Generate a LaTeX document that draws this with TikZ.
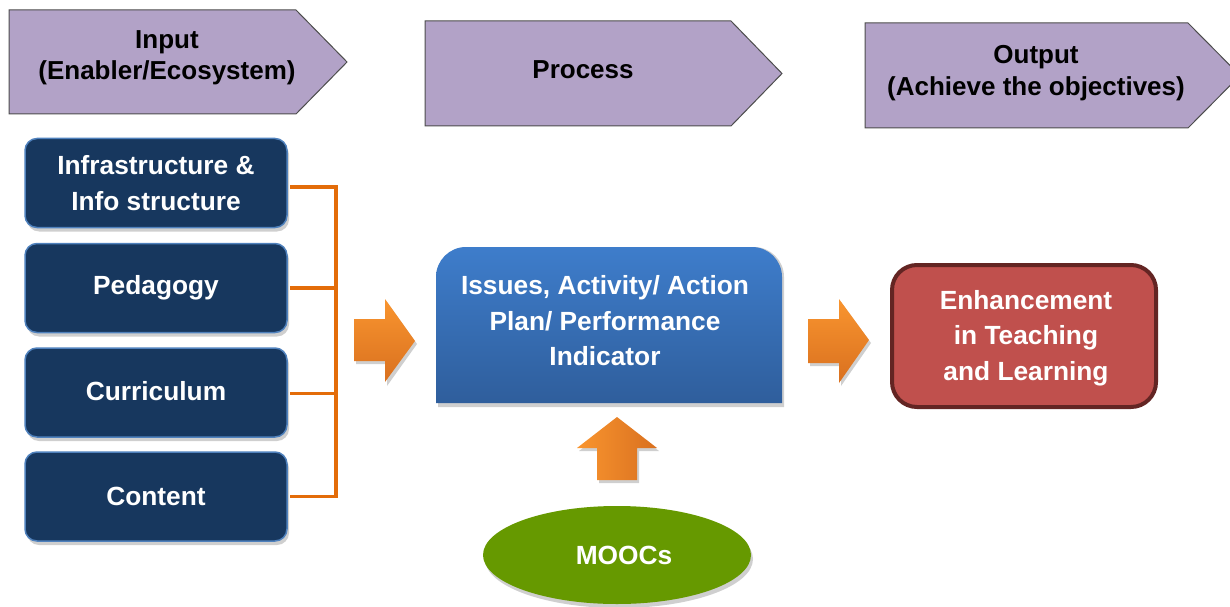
\documentclass[tikz,border=0pt]{standalone}
\usepackage{fontspec}
\setmainfont{Liberation Sans}
\usetikzlibrary{shapes.geometric,shadows}
\definecolor{pentafill}{HTML}{B2A2C7}
\definecolor{pentaedge}{HTML}{4D4D4D}
\definecolor{navy}{HTML}{17375E}
\definecolor{navyedge}{HTML}{4F81BD}
\definecolor{bluetop}{HTML}{3E7DCB}
\definecolor{bluebot}{HTML}{2F5E9C}
\definecolor{redfill}{HTML}{C0504D}
\definecolor{rededge}{HTML}{632523}
\definecolor{moocgreen}{HTML}{669900}
\definecolor{orangeA}{HTML}{F9952F}
\definecolor{orangeB}{HTML}{D9701F}
\definecolor{bracket}{HTML}{E36C09}
\definecolor{shadowgray}{HTML}{CFCFCF}
\begin{document}
\begin{tikzpicture}[x=1pt,y=1pt,
  txt/.style={font=\bfseries\fontsize{26.3}{35.5}\selectfont, align=center, inner sep=0pt},
  headtxt/.style={font=\bfseries\fontsize{26}{31.5}\selectfont, align=center, inner sep=0pt},
  pentashape/.style={fill=pentafill, draw=pentaedge, line width=1pt},
  navybox/.style={txt, text=white, fill=navy, draw=navyedge, line width=1.5pt,
    rounded corners=12pt, minimum width=262pt, minimum height=89pt,
    drop shadow={shadow xshift=2pt, shadow yshift=-4pt, fill=shadowgray, opacity=1}},
  bracketline/.style={draw=bracket, line width=3.5pt},
  shadowfill/.style={fill=shadowgray},
  hshade/.style={top color=orangeA, bottom color=orangeB},
  vshade/.style={left color=orangeA, right color=orangeB}]
\useasboundingbox (0,0) rectangle (1230,606);
\clip (0,0) rectangle (1230,606);

% header pentagons
\draw[pentashape] (9,596) -- (296,596) -- (347,544) -- (296,492) -- (9,492) -- cycle;
\node[headtxt] (input) at (167,548) {Input\\(Enabler/Ecosystem)};
\draw[pentashape] (425,585) -- (731,585) -- (782,532.5) -- (731,480) -- (425,480) -- cycle;
\node[headtxt] (process) at (583,536) {Process};
\draw[pentashape] (865,583) -- (1188,583) -- (1240,530.5) -- (1188,478) -- (865,478) -- cycle;
\node[headtxt] (output) at (1036,533) {Output\\(Achieve the objectives)};

% left boxes
\node[navybox] (b1) at (156,423) {Infrastructure \&\\Info structure};
\node[navybox] (b2) at (156,318) {Pedagogy};
\node[navybox] (b3) at (156,213.5) {\raisebox{3pt}{Curriculum}};
\node[navybox] (b4) at (156,109.5) {Content};

% bracket
\coordinate (br) at (336,0);
\draw[bracketline] ([shift={(2pt,-4pt)}]b1.east) -- ([yshift=-4pt]b1.east -| br)
  -- ([yshift=0pt]b4.east -| br) -- ([xshift=2pt]b4.east);
\draw[bracketline] ([xshift=2pt]b2.east) -- (b2.east -| br);
\draw[bracketline] ([shift={(2pt,-1pt)}]b3.east) -- ([yshift=-1pt]b3.east -| br);

% arrow 1
\fill[shadowfill] (356,284) -- (387,284) -- (387,304) -- (417,262) -- (387,220) -- (387,242) -- (356,242) -- cycle;
\shade[hshade] (354,287) -- (385,287) -- (385,307) -- (415,265) -- (385,224) -- (385,245) -- (354,245) -- cycle;

% arrow 2
\fill[shadowfill] (810,284) -- (841,284) -- (841,304) -- (871,263) -- (841,220) -- (841,240) -- (810,240) -- cycle;
\shade[hshade] (808,287) -- (839,287) -- (839,307) -- (869,266) -- (839,223) -- (839,243) -- (808,243) -- cycle;

% process box
\fill[shadowfill] (438,199) -- (438,329) arc[start angle=180, end angle=90, radius=30] -- (754,359) arc[start angle=90, end angle=0, radius=30] -- (784,199) -- cycle;
\shade[top color=bluetop, bottom color=bluebot] (436,203) -- (436,329) arc[start angle=180, end angle=90, radius=30] -- (752,359) arc[start angle=90, end angle=0, radius=30] -- (782,203) -- cycle;
\node[txt, text=white] (issues) at (605,285) {Issues, Activity/ Action\\Plan/ Performance\\Indicator};

% up arrow
\fill[shadowfill] (579,155) -- (599,155) -- (599,123) -- (639,123) -- (639,155) -- (659,155) -- (619,186) -- cycle;
\shade[vshade] (577,158) -- (597,158) -- (597,126) -- (637,126) -- (637,158) -- (657,158) -- (617,189) -- cycle;

% MOOCs
\node[ellipse, fill=moocgreen, minimum width=268pt, minimum height=98pt, inner sep=0pt,
  drop shadow={shadow xshift=2pt, shadow yshift=-4pt, fill=shadowgray, opacity=1}] (moocs) at (617,51) {};
\node[txt, text=white] (mooctxt) at (624,51) {MOOCs};

% output box
\node[fill=redfill, draw=rededge, line width=4pt, rounded corners=25pt,
  minimum width=264pt, minimum height=142pt, inner sep=0pt] (enh) at (1024,270) {};
\node[txt, text=white] (enhtxt) at (1026,268) {Enhancement\\in Teaching\\and Learning};
\end{tikzpicture}
\end{document}
